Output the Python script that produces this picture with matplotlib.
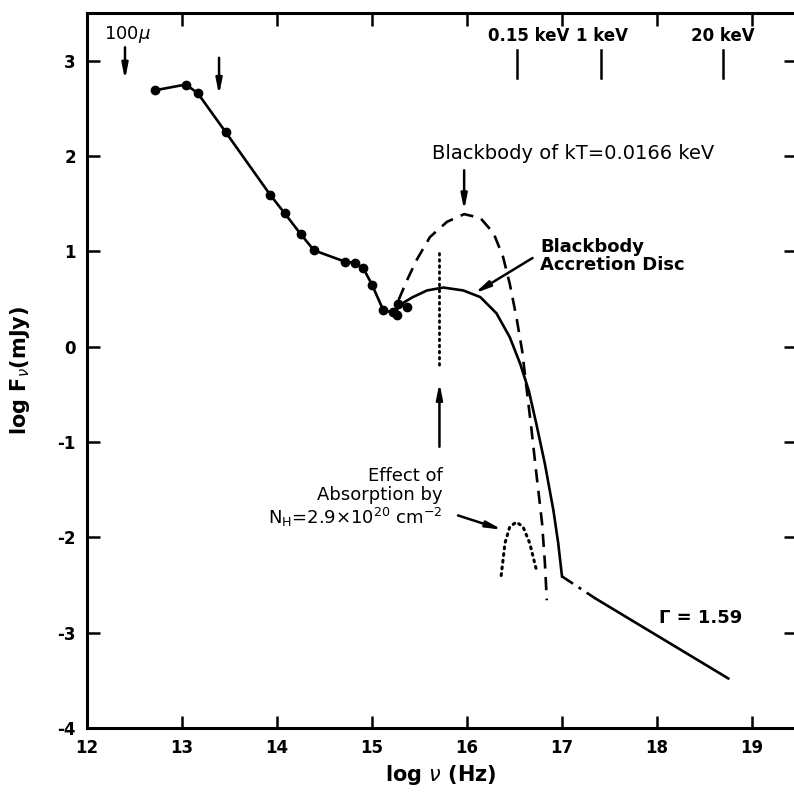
import matplotlib
matplotlib.use("Agg")
from matplotlib import pyplot as plt

plt.rcParams["axes.unicode_minus"] = False

# observed points (log nu, log F_nu)
obs_lognu = [12.72, 13.04, 13.165, 13.46, 13.93, 14.08, 14.25, 14.39, 14.72, 14.82,
             14.91, 15.0, 15.12, 15.22, 15.26, 15.27, 15.37]
obs_logf = [2.69, 2.75, 2.66, 2.25, 1.59, 1.40, 1.18, 1.01, 0.89, 0.88,
            0.82, 0.65, 0.38, 0.36, 0.33, 0.45, 0.42]

# blackbody kT = 0.0166 keV (dashed)
bb_lognu = [15.28, 15.37, 15.47, 15.61, 15.79, 15.97, 16.14, 16.28, 16.38, 16.45,
            16.52, 16.58, 16.63, 16.68, 16.73, 16.79, 16.82, 16.84]
bb_logf = [0.49, 0.70, 0.91, 1.15, 1.31, 1.39, 1.35, 1.19, 0.94, 0.66,
           0.31, -0.04, -0.46, -0.88, -1.33, -1.85, -2.27, -2.66]

# blackbody accretion disc (solid)
disc_lognu = [15.26, 15.43, 15.58, 15.75, 15.96, 16.14, 16.31, 16.45, 16.56, 16.65,
              16.73, 16.82, 16.91, 16.96, 17.0]
disc_logf = [0.42, 0.52, 0.59, 0.62, 0.59, 0.52, 0.35, 0.10, -0.18, -0.46,
             -0.81, -1.23, -1.72, -2.06, -2.41]

# absorbed disc (dotted bump)
abs_lognu = [16.36, 16.40, 16.45, 16.52, 16.59, 16.66, 16.73]
abs_logf = [-2.40, -2.06, -1.89, -1.84, -1.89, -2.06, -2.34]

# power law Gamma = 1.59
pl_gap_lognu = [17.0, 17.35]
pl_gap_logf = [-2.41, -2.64]
pl_lognu = [17.35, 18.75]
pl_logf = [-2.64, -3.48]

# energy markers on top
energy_labels = ["0.15 keV", "1 keV", "20 keV"]
energy_lognu = [16.53, 17.41, 18.69]
energy_label_x = [16.65, 17.42, 18.69]

x_ticks = [12, 13, 14, 15, 16, 17, 18, 19]
y_ticks = [-4, -3, -2, -1, 0, 1, 2, 3]

fig = plt.figure(figsize=(7.94, 7.98), dpi=100)
ax = fig.add_axes([87 / 794, 70 / 798, (795.5 - 87) / 794, (728 - 13) / 798])
ax.set_xlim(12, 12 + (795.5 - 87) / 95)
ax.set_ylim(-4, 3.5)

lw = 1.9
ax.plot(obs_lognu, obs_logf, "-o", color="black", lw=lw, ms=6)
ax.plot(bb_lognu, bb_logf, color="black", lw=lw, dashes=(5, 3.2))
ax.plot(disc_lognu, disc_logf, color="black", lw=lw)
ax.plot(abs_lognu, abs_logf, color="black", lw=2.2, ls=(0, (0.6, 1.6)), dash_capstyle="round")
ax.plot(pl_gap_lognu, pl_gap_logf, color="black", lw=lw, ls=(0, (5, 2.5, 1.2, 2.5)))
ax.plot(pl_lognu, pl_logf, color="black", lw=lw)

# dotted vertical line at absorption edge
ax.plot([15.71, 15.71], [0.98, -0.21], color="black", lw=2.0, ls=(0, (0.6, 1.6)),
        dash_capstyle="round")

arrow = dict(arrowstyle="-|>,head_width=0.18,head_length=0.9", color="black", lw=1.8,
             shrinkA=0, shrinkB=0)

ax.annotate("", xy=(12.40, 2.80), xytext=(12.40, 3.14), arrowprops=arrow)
ax.annotate("", xy=(13.39, 2.64), xytext=(13.39, 3.03), arrowprops=arrow)
ax.annotate("", xy=(15.97, 1.43), xytext=(15.97, 1.85), arrowprops=arrow)
ax.annotate("", xy=(15.71, -0.38), xytext=(15.71, -1.05), arrowprops=arrow)
ax.annotate("", xy=(16.08, 0.56), xytext=(16.69, 0.93), arrowprops=arrow)
ax.annotate("", xy=(16.37, -1.92), xytext=(15.905, -1.77), arrowprops=arrow)

for lab, x, xl in zip(energy_labels, energy_lognu, energy_label_x):
    ax.plot([x, x], [2.82, 3.11], color="black", lw=1.8)
    ax.text(xl, 3.26, lab, ha="center", va="center", fontsize=12, fontweight="bold")
ax.text(12.43, 3.27, r"100$\mu$", ha="center", va="center", fontsize=13)

ax.text(17.12, 2.03, "Blackbody of kT=0.0166 keV", ha="center", va="center", fontsize=14)
ax.text(16.77, 0.95, "Blackbody\nAccretion Disc", ha="left", va="center", fontsize=13,
        fontweight="bold", linespacing=1.05)
ax.text(15.74, -1.59, "Effect of\nAbsorption by\n" + r"N$_\mathrm{H}$=2.9$\times$10$^{20}$ cm$^{-2}$",
        ha="right", va="center", multialignment="right", fontsize=13, linespacing=1.1)
ax.text(18.46, -2.85, "\u0393 = 1.59", ha="center", va="center", fontsize=13, fontweight="bold")

ax.set_xticks(x_ticks)
ax.set_yticks(y_ticks)
ax.tick_params(direction="in", length=9, width=1.8, top=True, right=True,
               labelsize=12, pad=8)
for lbl in ax.get_xticklabels() + ax.get_yticklabels():
    lbl.set_fontweight("bold")
for sp in ax.spines.values():
    sp.set_linewidth(2.2)
ax.spines["right"].set_visible(False)

ax.set_xlabel(r"log $\nu$ (Hz)", fontsize=15, fontweight="bold", labelpad=4)
ax.set_ylabel(r"log F$_\nu$(mJy)", fontsize=15, fontweight="bold", labelpad=18)

fig.savefig("out.png", dpi=100)
